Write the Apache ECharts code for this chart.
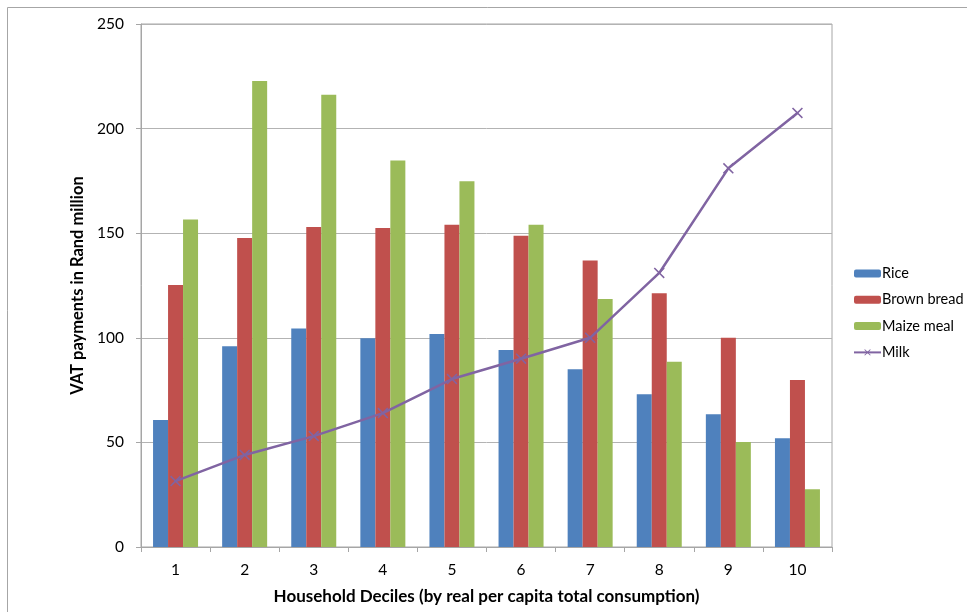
<!DOCTYPE html>
<html>
<head>
<meta charset="utf-8">
<script src="https://cdn.jsdelivr.net/npm/echarts@6/dist/echarts.min.js"></script>
<style>html,body{margin:0;padding:0;background:#fff}#c{width:967px;height:612px}</style>
</head>
<body>
<div id="c"></div>
<script>
const categories = ['1','2','3','4','5','6','7','8','9','10'];
const rice = [60.7, 96, 104.5, 99.8, 101.8, 94.2, 85, 73, 63.5, 52];
const brownBread = [125.2, 147.7, 153, 152.5, 154, 148.8, 137, 121.3, 100, 79.8];
const maizeMeal = [156.5, 222.8, 216.2, 184.8, 174.8, 154, 118.5, 88.5, 50.2, 27.6];
const milk = [31.5, 44, 53, 64, 80.3, 90, 100, 131, 181, 207.5];
const yTicks = [0, 50, 100, 150, 200, 250];

const font = 'Lato, "Open Sans", sans-serif';
const xSym = 'path://M0,1L1,0L5,4L9,0L10,1L6,5L10,9L9,10L5,6L1,10L0,9L4,5Z';
const chart = echarts.init(document.getElementById('c'));
chart.setOption({
  animation: false,
  backgroundColor: '#fff',
  graphic: [{
    type: 'rect', shape: {x: 7.5, y: 7.5, width: 980, height: 640},
    style: {fill: 'none', stroke: '#a6a6a6', lineWidth: 1}, silent: true
  }],
  grid: {left: 141, right: 135, top: 24, bottom: 65, show: true, borderColor: '#a6a6a6', borderWidth: 1, backgroundColor: 'transparent'},
  legend: {
    orient: 'vertical', left: 848, top: 261, itemWidth: 27, itemHeight: 8, itemGap: 11.3,
    textStyle: {fontFamily: font, fontSize: 14.5, color: '#000', padding: [0,0,0,-4]},
    data: ['Rice', 'Brown bread', 'Maize meal', 'Milk']
  },
  xAxis: {
    type: 'category', data: categories,
    name: 'Household Deciles (by real per capita total consumption)',
    nameLocation: 'middle', nameGap: 41,
    nameTextStyle: {fontFamily: font, fontSize: 17, fontWeight: 'bold', color: '#000'},
    axisLine: {lineStyle: {color: '#a6a6a6'}},
    axisTick: {show: true, length: 5, alignWithLabel: false, lineStyle: {color: '#a6a6a6'}},
    axisLabel: {fontFamily: font, fontSize: 15.5, color: '#000', margin: 15},
    splitLine: {show: false}
  },
  yAxis: {
    type: 'value', min: 0, max: 250, interval: 50,
    name: 'VAT payments in Rand million',
    nameLocation: 'middle', nameGap: 51, nameRotate: 90,
    nameTextStyle: {fontFamily: font, fontSize: 16.5, fontWeight: 'bold', color: '#000'},
    axisLine: {show: true, lineStyle: {color: '#a6a6a6'}},
    axisTick: {show: true, length: 5, lineStyle: {color: '#a6a6a6'}},
    axisLabel: {fontFamily: font, fontSize: 15.5, color: '#000', margin: 17,
      formatter: v => yTicks.includes(v) ? String(v) : ''},
    splitLine: {lineStyle: {color: '#b3b3b3'}}
  },
  series: [
    {name: 'Rice', type: 'bar', data: rice, barWidth: 15, barGap: '0%', itemStyle: {color: '#4f81bd'}},
    {name: 'Brown bread', type: 'bar', data: brownBread, barWidth: 15, barGap: '0%', itemStyle: {color: '#c0504d'}},
    {name: 'Maize meal', type: 'bar', data: maizeMeal, barWidth: 15, barGap: '0%', itemStyle: {color: '#9bbb59'}},
    {name: 'Milk', type: 'line', data: milk, symbol: xSym, symbolSize: 11, showSymbol: true,
      lineStyle: {color: '#8064a2', width: 2.5}, itemStyle: {color: '#8064a2'}, z: 5}
  ]
});
</script>
</body>
</html>
